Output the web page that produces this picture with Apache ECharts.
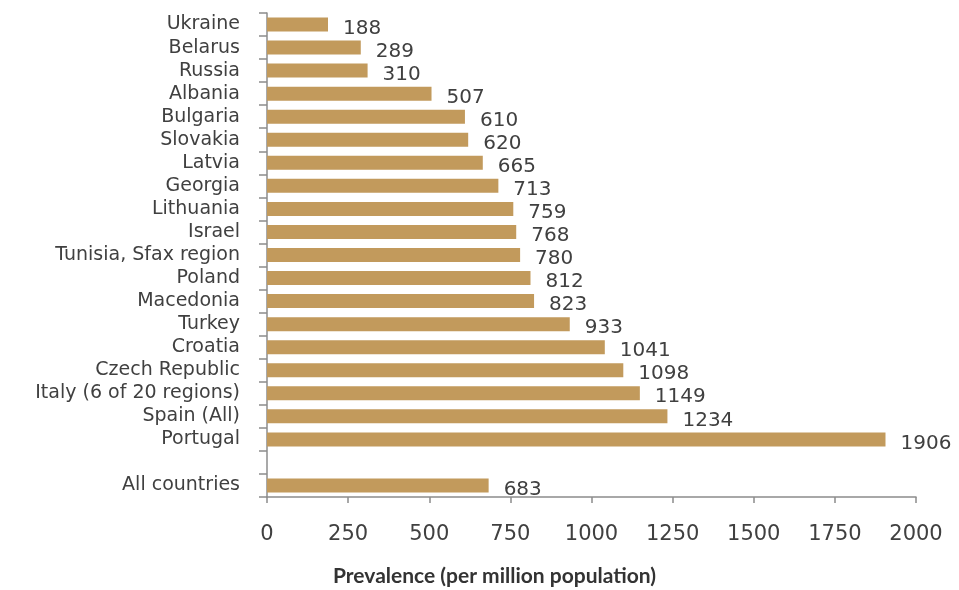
<!DOCTYPE html>
<html><head><meta charset="utf-8">
<script src="https://cdn.jsdelivr.net/npm/echarts@6/dist/echarts.min.js"></script>
<style>html,body{margin:0;padding:0;background:#fff}#c{width:959px;height:590px}</style>
</head><body><div id="c"></div>
<script>
const categories = ["Ukraine","Belarus","Russia","Albania","Bulgaria","Slovakia","Latvia","Georgia","Lithuania","Israel","Tunisia, Sfax region","Poland","Macedonia","Turkey","Croatia","Czech Republic","Italy (6 of 20 regions)","Spain (All)","Portugal","","All countries"];
const values = [188,289,310,507,610,620,665,713,759,768,780,812,823,933,1041,1098,1149,1234,1906,null,683];
const xTicks = {min:0, max:2000, interval:250};
const xTitle = "Prevalence (per million population)";

const chart = echarts.init(document.getElementById('c'));
const font = '"DejaVu Sans", sans-serif';
chart.setOption({
  backgroundColor:'#ffffff',
  animation:false,
  title:{text:xTitle, left:333, top:566, padding:0,
    textStyle:{color:'#333', fontSize:21, fontWeight:'bold', fontFamily:'Lato, sans-serif'}},
  grid:{left:267, right:43, top:13, bottom:93, containLabel:false},
  xAxis:{type:'value', min:xTicks.min, max:xTicks.max, interval:xTicks.interval,
    splitLine:{show:false},
    axisLine:{show:true, lineStyle:{color:'#8c8c8c', width:1.5}},
    axisTick:{show:true, length:6, lineStyle:{color:'#8c8c8c', width:1.5}},
    axisLabel:{color:'#404040', fontSize:21, fontFamily:font, margin:27, formatter:v=>String(v)}
  },
  yAxis:{type:'category', inverse:true, data:categories,
    axisLine:{show:true, lineStyle:{color:'#8c8c8c', width:1.5}},
    axisTick:{show:true, length:8, lineStyle:{color:'#8c8c8c', width:1.5}},
    axisLabel:{color:'#404040', fontSize:19, fontFamily:font, margin:27, interval:0, hideOverlap:false}
  },
  series:[{type:'bar', data:values, barWidth:14,
    itemStyle:{color:'#c29a5c'},
    label:{show:true, position:'right', distance:15, offset:[0,4], color:'#404040', fontSize:20, fontFamily:font}
  }]
});
</script></body></html>
